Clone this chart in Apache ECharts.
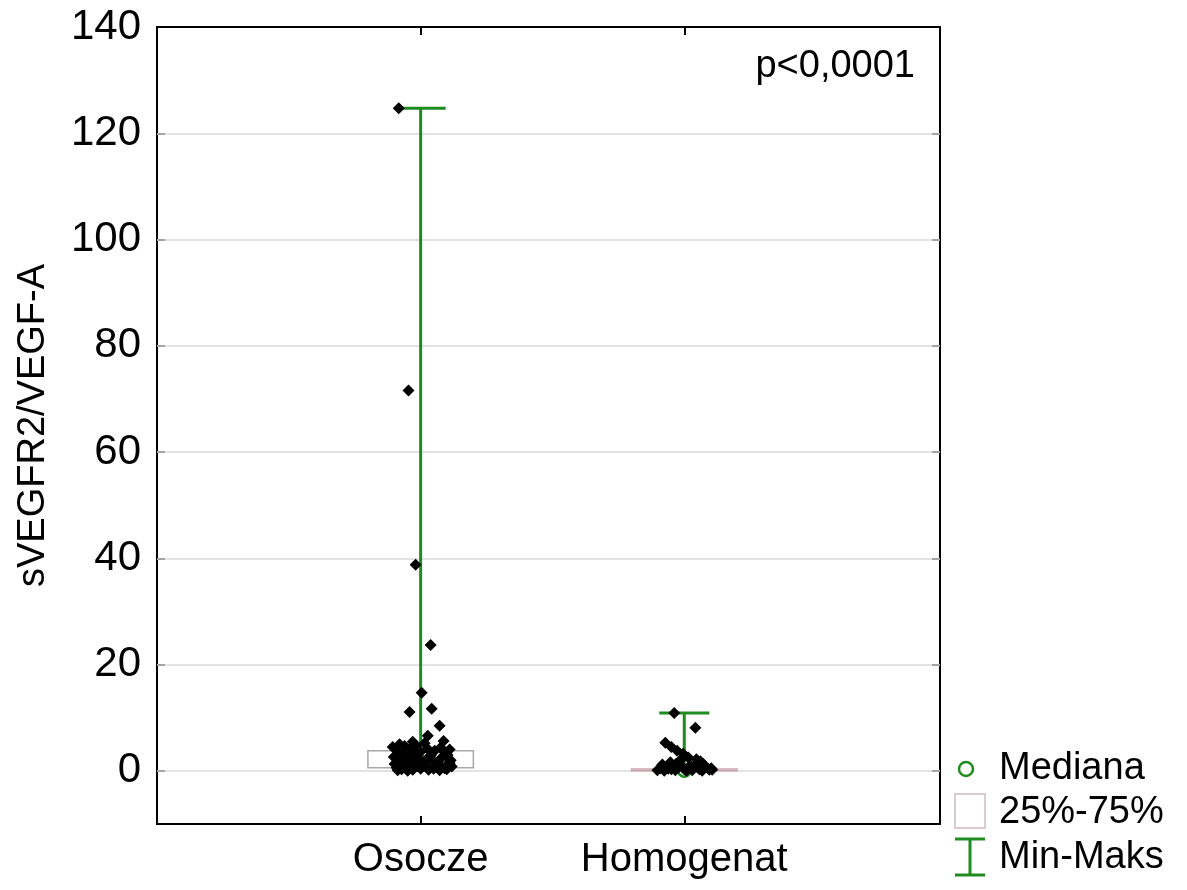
<!DOCTYPE html>
<html>
<head>
<meta charset="utf-8">
<script src="https://cdn.jsdelivr.net/npm/echarts@6/dist/echarts.min.js"></script>
<style>html,body{margin:0;padding:0;background:#fff;}#chart{width:1187px;height:890px;}</style>
</head>
<body>
<div id="chart"></div>
<script>
// ---- data ----
const categories = ['Osocze', 'Homogenat'];
const yTicks = [0, 20, 40, 60, 80, 100, 120, 140];
const gridValues = [0, 20, 40, 60, 80, 100, 120];
const statMin = [0.1, 0.0];
const statQ1 = [0.57, 0.0];
const statMedian = [1.7, 0.02];
const statQ3 = [3.8, 0.35];
const statMax = [124.7, 10.9];
const pLabel = 'p<0,0001';
const yTitle = 'sVEGFR2/VEGF-A';
const legendLabels = ['Mediana', '25%-75%', 'Min-Maks'];

const osoczeValues = [124.7, 71.6, 38.8, 23.7, 14.7, 11.1, 11.7, 8.5, 6.6, 5.6,
  4.4, 3.5, 2.5, 1.2, 0.5, 5.0, 4.7, 4.2, 3.9, 3.2,
  2.8, 2.1, 1.6, 1.0, 0.6, 0.3, 0.2, 4.8, 3.6, 2.4,
  1.4, 0.7, 0.4, 5.2, 2.9, 1.8, 3.0, 1.5, 0.4, 0.1,
  4.5, 2.6, 1.3, 0.1, 5.5, 3.4, 1.9, 0.9, 0.0, 4.1,
  2.2, 0.2, 3.8, 1.1, 2.0, 0.8, 4.0, 0.3];
const osoczeJitter = [-0.083, -0.046, -0.019, 0.038, 0.004, -0.042, 0.042, 0.072, 0.027, 0.087,
  0.076, 0.091, 0.080, 0.068, 0.091, -0.080, -0.061, -0.038, -0.091, -0.068,
  -0.053, -0.083, -0.064, -0.046, -0.091, -0.072, -0.030, -0.019, 0.000, -0.011,
  0.008, 0.027, 0.049, 0.015, 0.038, 0.049, 0.102, 0.110, 0.000, 0.072,
  -0.106, -0.102, -0.099, -0.087, -0.030, -0.027, -0.030, -0.015, -0.049, 0.027,
  0.023, 0.030, 0.053, 0.099, 0.114, 0.118, 0.110, 0.099];
const homogenatValues = [10.9, 8.1, 5.3, 4.5, 3.8, 3.2, 2.5, 2.2, 1.8, 1.6,
  1.2, 1.0, 0.8, 0.6, 0.5, 0.4, 0.3, 0.3, 0.2, 0.1,
  0.1, 0.0, 0.0, 0.0, 0.2, 0.1, 1.4, 0.9, 0.7, 1.3,
  0.5, 0.6, 0.3, 2.0, 1.1];
const homogenatJitter = [-0.038, 0.042, -0.072, -0.049, -0.027, -0.004, 0.015, 0.046, 0.061, -0.053,
  -0.083, 0.023, 0.080, -0.023, -0.091, -0.061, 0.000, 0.057, 0.095, -0.034,
  0.030, -0.076, 0.068, 0.008, 0.106, -0.102, -0.030, -0.011, 0.038, 0.072,
  0.102, -0.068, -0.049, -0.015, 0.049];

// ---- build ----
const GREEN = '#1e8c1e';
const FONT = 'Liberation Sans, Arial, sans-serif';
const FS = 38;

const statsData = categories.map((c, i) => [i + 1, statMin[i], statQ1[i], statMedian[i], statQ3[i], statMax[i]]);
const pointsData = [];
osoczeValues.forEach((v, i) => pointsData.push([1 + osoczeJitter[i], v]));
homogenatValues.forEach((v, i) => pointsData.push([2 + homogenatJitter[i], v]));

const boxColors = ['#a8a8a8', '#c9a3ad'];

function renderBox(params, api) {
  const x = api.value(0);
  const q1 = api.coord([x, api.value(2)]);
  const q3 = api.coord([x, api.value(4)]);
  const hw = api.size([0.4, 0])[0] / 2;
  const h = Math.max(q1[1] - q3[1], 1.5);
  return {
    type: 'rect',
    shape: { x: q1[0] - hw, y: q3[1], width: hw * 2, height: h },
    style: { fill: '#fff', stroke: boxColors[params.dataIndex], lineWidth: 1.5 }
  };
}

function renderWhisker(params, api) {
  const x = api.value(0);
  const lo = api.coord([x, api.value(1)]);
  const hi = api.coord([x, api.value(5)]);
  const med = api.coord([x, api.value(3)]);
  const cw = api.size([0.19, 0])[0] / 2;
  const ls = { stroke: GREEN, lineWidth: 3 };
  return {
    type: 'group',
    children: [
      { type: 'line', shape: { x1: hi[0], y1: hi[1], x2: lo[0], y2: lo[1] }, style: ls },
      { type: 'line', shape: { x1: hi[0] - cw, y1: hi[1], x2: hi[0] + cw, y2: hi[1] }, style: ls },
      { type: 'line', shape: { x1: lo[0] - cw, y1: lo[1], x2: lo[0] + cw, y2: lo[1] }, style: ls },
      { type: 'circle', shape: { cx: med[0], cy: med[1], r: 6 }, style: { fill: '#fff', stroke: GREEN, lineWidth: 2.5 } }
    ]
  };
}

const chart = echarts.init(document.getElementById('chart'), null, { renderer: 'canvas' });

const axisLineStyle = { color: '#000', width: 2 };
const option = {
  backgroundColor: '#fff',
  animation: false,
  grid: { left: 157, right: 247, top: 27, bottom: 66, containLabel: false },
  xAxis: [
    {
      type: 'value', min: 0, max: 2.97, position: 'bottom',
      axisLine: { show: true, onZero: false, lineStyle: axisLineStyle },
      axisTick: { show: true, inside: true, length: 8, customValues: [1, 2], lineStyle: { color: '#000', width: 2 } },
      axisLabel: { show: true, customValues: [1, 2], formatter: v => categories[Math.round(v) - 1] || '',
        color: '#000', fontSize: 40, fontFamily: FONT, margin: 16 },
      splitLine: { show: false }
    },
    {
      type: 'value', min: 0, max: 2.97, position: 'top',
      axisLine: { show: true, onZero: false, lineStyle: axisLineStyle },
      axisTick: { show: true, inside: true, length: 8, customValues: [1, 2], lineStyle: { color: '#000', width: 2 } },
      axisLabel: { show: false },
      splitLine: { show: false }
    }
  ],
  yAxis: [
    {
      type: 'value', min: -10, max: 140, position: 'left',
      name: yTitle, nameLocation: 'middle', nameGap: 104, nameRotate: 90,
      nameTextStyle: { color: '#000', fontSize: FS, fontFamily: FONT },
      axisLine: { show: true, onZero: false, lineStyle: axisLineStyle },
      axisTick: { show: true, inside: true, length: 8, customValues: yTicks, lineStyle: { color: '#000', width: 2 } },
      axisLabel: { show: true, customValues: yTicks, color: '#000', fontSize: 42, fontFamily: FONT, margin: 16 },
      splitLine: { show: false }
    },
    {
      type: 'value', min: -10, max: 140, position: 'right',
      axisLine: { show: true, onZero: false, lineStyle: axisLineStyle },
      axisTick: { show: true, inside: true, length: 8, customValues: yTicks, lineStyle: { color: '#000', width: 2 } },
      axisLabel: { show: false },
      splitLine: { show: false }
    }
  ],
  series: [
    {
      type: 'custom', name: 'box', xAxisIndex: 0, yAxisIndex: 0, z: 2,
      renderItem: renderBox, data: statsData, silent: true,
      encode: { x: 0, y: [1, 2, 3, 4, 5] },
      markLine: {
        silent: true, symbol: 'none', z: 1, animation: false,
        label: { show: false },
        lineStyle: { color: '#dadada', width: 1.5, type: 'solid' },
        data: gridValues.map(v => ({ yAxis: v }))
      }
    },
    {
      type: 'custom', name: 'whisker', xAxisIndex: 0, yAxisIndex: 0, z: 3,
      renderItem: renderWhisker, data: statsData, silent: true,
      encode: { x: 0, y: [1, 2, 3, 4, 5] }
    },
    {
      type: 'scatter', name: 'points', xAxisIndex: 0, yAxisIndex: 0, z: 4,
      symbol: 'diamond', symbolSize: 12,
      itemStyle: { color: '#000', opacity: 1 },
      data: pointsData
    }
  ],
  graphic: [
    { type: 'text', right: 272, top: 48, style: { text: pLabel, fill: '#000', font: FS + 'px ' + FONT } },
    { type: 'circle', shape: { cx: 966, cy: 769, r: 7 }, style: { fill: '#fff', stroke: GREEN, lineWidth: 2.5 } },
    { type: 'text', x: 999, y: 769, style: { text: legendLabels[0], fill: '#000', font: FS + 'px ' + FONT, verticalAlign: 'middle' } },
    { type: 'rect', shape: { x: 955, y: 794, width: 30, height: 34 }, style: { fill: '#fff', stroke: '#cbbcc0', lineWidth: 1.5 } },
    { type: 'text', x: 999, y: 813, style: { text: legendLabels[1], fill: '#000', font: FS + 'px ' + FONT, verticalAlign: 'middle' } },
    { type: 'polyline', shape: { points: [[955, 839], [985, 839]] }, style: { stroke: GREEN, lineWidth: 3 } },
    { type: 'polyline', shape: { points: [[970, 839], [970, 875]] }, style: { stroke: GREEN, lineWidth: 3 } },
    { type: 'polyline', shape: { points: [[955, 875], [985, 875]] }, style: { stroke: GREEN, lineWidth: 3 } },
    { type: 'text', x: 999, y: 858, style: { text: legendLabels[2], fill: '#000', font: FS + 'px ' + FONT, verticalAlign: 'middle' } }
  ]
};
chart.setOption(option);
</script>
</body>
</html>
